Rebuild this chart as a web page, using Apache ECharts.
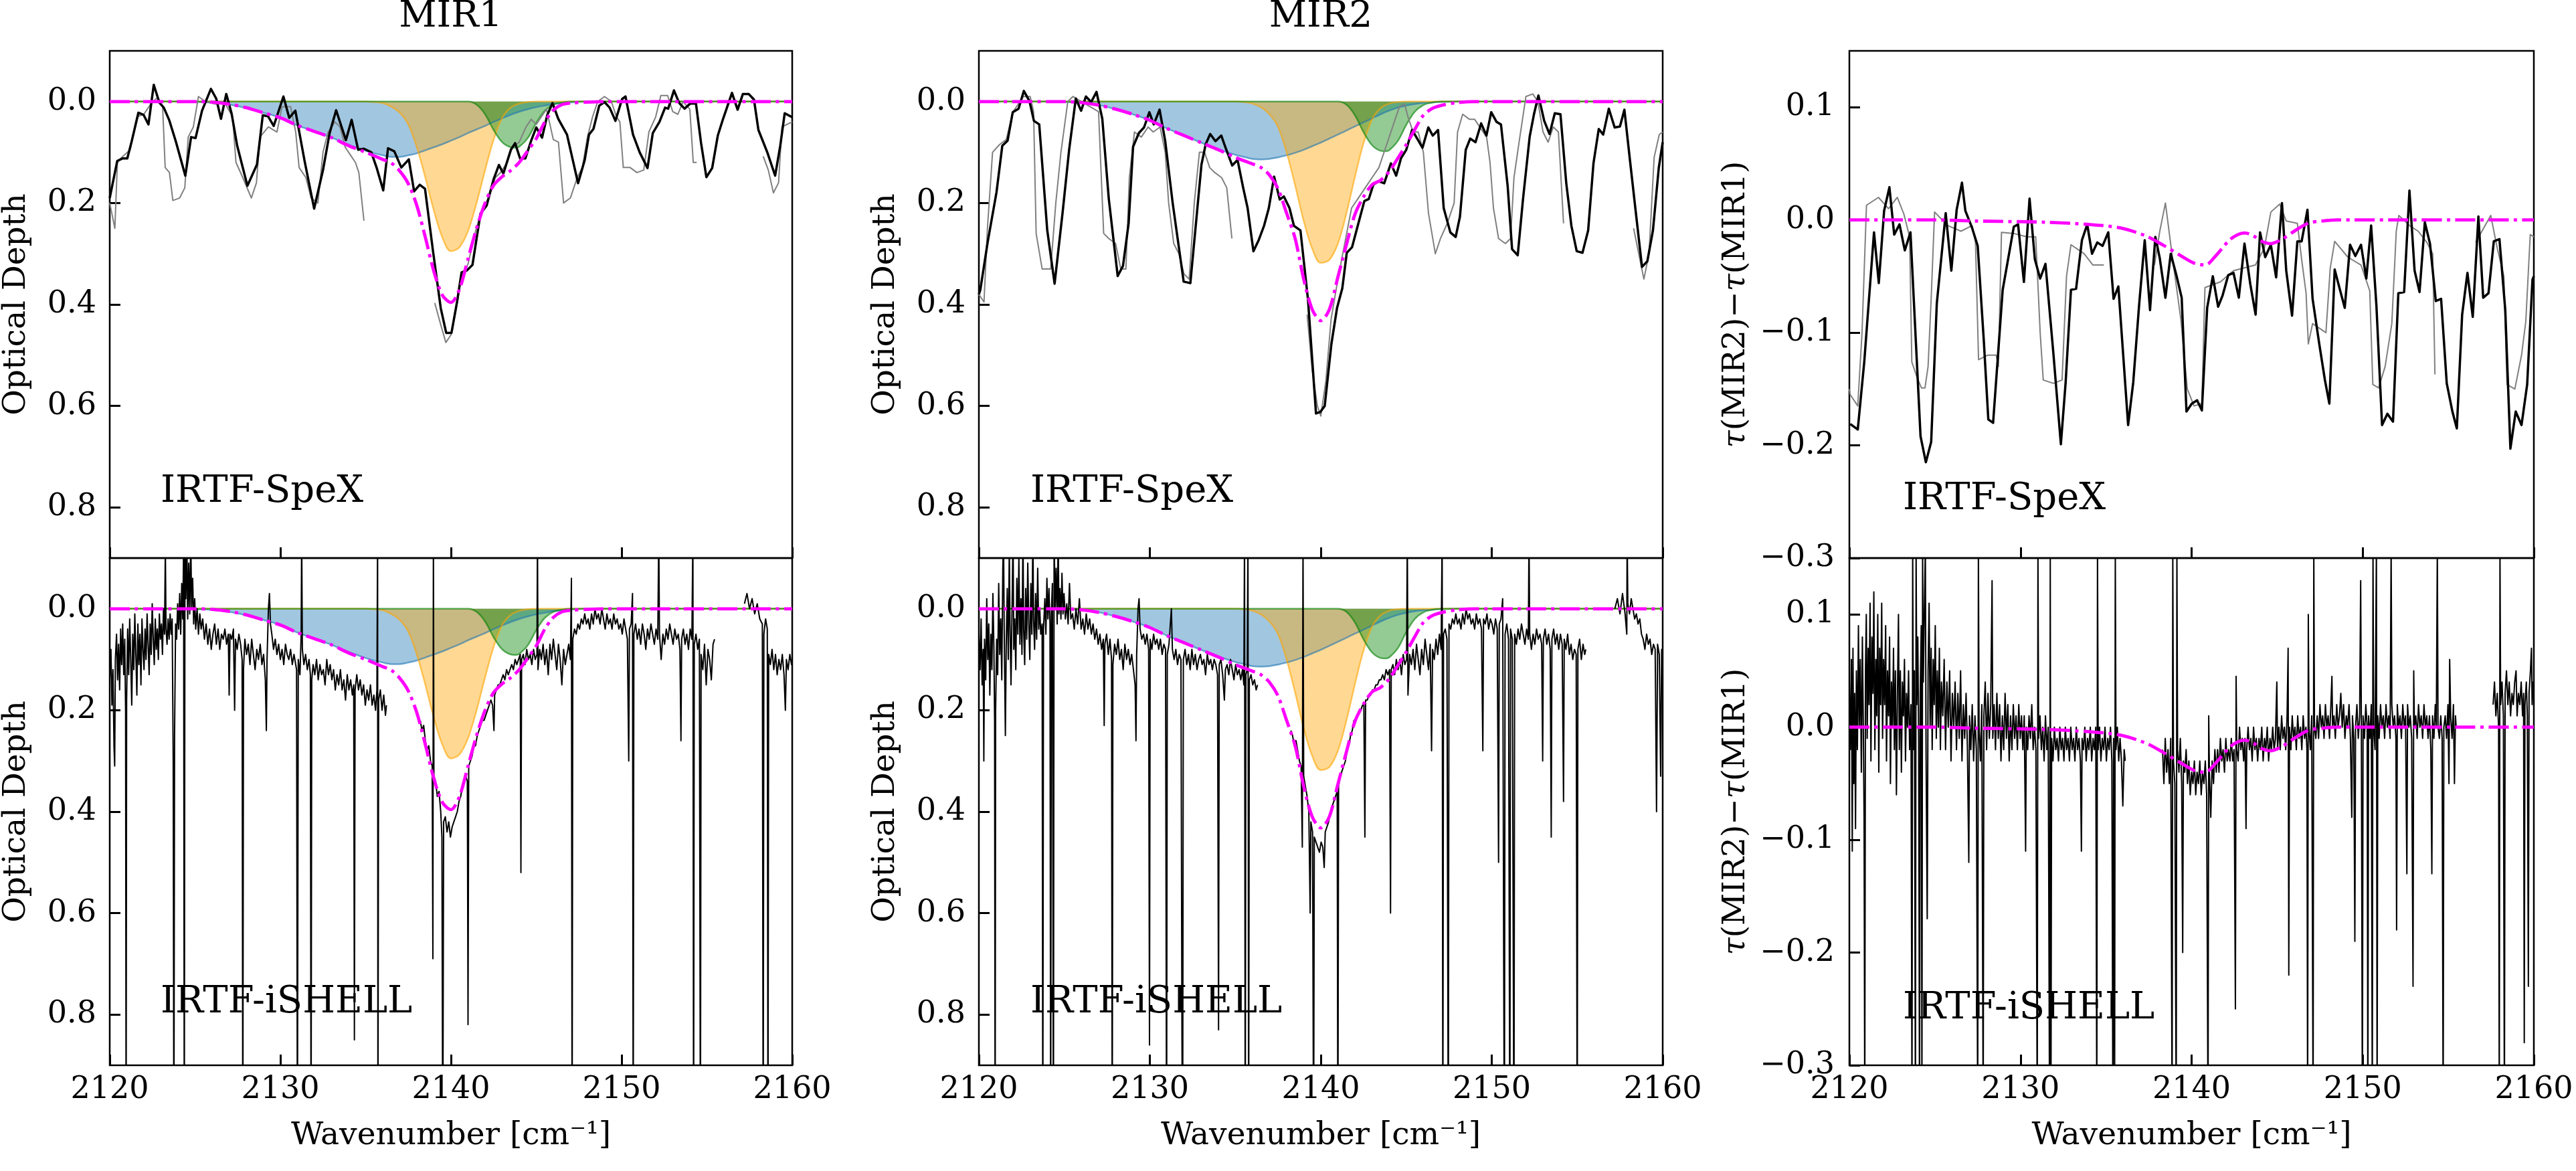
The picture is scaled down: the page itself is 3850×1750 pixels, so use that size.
<!DOCTYPE html>
<html><head><meta charset="utf-8">
<script src="https://cdn.jsdelivr.net/npm/echarts@6/dist/echarts.min.js"></script>
<style>html,body{margin:0;padding:0;background:#fff}#c{width:3850px;height:1750px}</style>
</head><body><div id="c"></div>
<script>
// ---------- axis ticks / labels ----------
const xTicks = [2120, 2130, 2140, 2150, 2160];
const odTicks = [0, 0.2, 0.4, 0.6, 0.8];
const diffTicks = [-0.3, -0.2, -0.1, 0, 0.1];
const columnTitles = ['MIR1', 'MIR2'];
const rowLabels = ['IRTF-SpeX', 'IRTF-iSHELL'];

// ---------- fitted components (x, tau) ----------
const blue1 = [2120,0, 2124,0, 2125,0.001, 2126,0.002, 2127,0.006, 2128,0.013, 2129,0.022, 2130,0.032, 2131,0.047, 2132,0.059, 2133,0.071, 2134,0.085, 2135,0.097, 2135.5,0.102, 2136,0.106, 2136.5,0.109, 2137,0.109, 2137.5,0.106, 2138,0.102, 2138.5,0.096, 2139,0.09, 2139.5,0.084, 2140,0.077, 2140.5,0.07, 2141,0.062, 2141.5,0.055, 2142,0.048, 2142.5,0.04, 2143,0.033, 2143.5,0.026, 2144,0.02, 2144.5,0.015, 2145,0.011, 2145.5,0.008, 2146,0.005, 2147,0.002, 2148,0, 2160,0];
const orange1 = [2120,0, 2135,0, 2135.5,0.001, 2136,0.003, 2136.5,0.01, 2137,0.022, 2137.5,0.045, 2138,0.09, 2138.5,0.15, 2139,0.215, 2139.5,0.268, 2140,0.295, 2140.5,0.287, 2141,0.255, 2141.5,0.2, 2142,0.135, 2142.5,0.075, 2143,0.032, 2143.5,0.012, 2144,0.004, 2144.5,0.001, 2145,0, 2160,0];
const green1 = [2120,0, 2141,0, 2141.5,0.006, 2142,0.025, 2142.5,0.056, 2143,0.08, 2143.5,0.09, 2143.8,0.091, 2144,0.089, 2144.5,0.072, 2145,0.042, 2145.5,0.018, 2146,0.006, 2146.5,0.002, 2147,0, 2160,0];
const fit1 = [2120,0, 2125,0, 2126,0.001, 2127,0.005, 2128,0.012, 2129,0.022, 2130,0.032, 2131,0.047, 2132,0.059, 2133,0.071, 2134,0.087, 2135,0.1, 2136,0.114, 2136.5,0.121, 2137,0.137, 2137.5,0.162, 2138,0.205, 2138.5,0.268, 2139,0.335, 2139.5,0.382, 2140,0.396, 2140.5,0.37, 2141,0.31, 2141.5,0.25, 2142,0.2, 2142.5,0.165, 2143,0.148, 2143.5,0.136, 2144,0.12, 2144.5,0.097, 2145,0.073, 2145.5,0.04, 2146,0.017, 2146.5,0.006, 2147,0.003, 2148,0.001, 2149,0, 2160,0];

const blue2 = [2120,0, 2124,0, 2125,0.001, 2126,0.002, 2127,0.007, 2128,0.015, 2129,0.025, 2130,0.037, 2131,0.053, 2132,0.067, 2133,0.081, 2134,0.094, 2135,0.105, 2135.5,0.109, 2136,0.113, 2136.5,0.114, 2137,0.113, 2137.5,0.11, 2138,0.106, 2138.5,0.101, 2139,0.095, 2139.5,0.088, 2140,0.081, 2140.5,0.073, 2141,0.065, 2141.5,0.057, 2142,0.049, 2142.5,0.041, 2143,0.033, 2143.5,0.025, 2144,0.018, 2144.5,0.012, 2145,0.008, 2145.5,0.005, 2146,0.003, 2147,0.001, 2148,0, 2160,0];
const orange2 = [2120,0, 2135,0, 2135.5,0.001, 2136,0.004, 2136.5,0.011, 2137,0.025, 2137.5,0.05, 2138,0.1, 2138.5,0.165, 2139,0.235, 2139.5,0.29, 2140,0.318, 2140.5,0.312, 2141,0.28, 2141.5,0.22, 2142,0.148, 2142.5,0.082, 2143,0.035, 2143.5,0.013, 2144,0.004, 2144.5,0.001, 2145,0, 2160,0];
const green2 = [2120,0, 2141,0, 2141.5,0.006, 2142,0.027, 2142.5,0.06, 2143,0.086, 2143.5,0.097, 2143.8,0.098, 2144,0.096, 2144.5,0.078, 2145,0.046, 2145.5,0.02, 2146,0.007, 2146.5,0.002, 2147,0, 2160,0];
const fit2 = [2120,0, 2125,0, 2126,0.002, 2127,0.007, 2128,0.015, 2129,0.025, 2130,0.037, 2131,0.053, 2132,0.067, 2133,0.081, 2134,0.095, 2135,0.11, 2136,0.123, 2136.5,0.13, 2137,0.145, 2137.5,0.172, 2138,0.22, 2138.5,0.27, 2139,0.35, 2139.5,0.41, 2140,0.432, 2140.5,0.41, 2141,0.346, 2141.5,0.282, 2142,0.222, 2142.5,0.188, 2143,0.164, 2143.5,0.155, 2144,0.138, 2144.5,0.112, 2145,0.085, 2145.5,0.055, 2146,0.027, 2146.5,0.014, 2147,0.008, 2148,0.002, 2149,0, 2160,0];

const fitDiff = [2120,0, 2125,0, 2127.5,-0.001, 2131.4,-0.002, 2134,-0.004, 2135.8,-0.007, 2137.3,-0.014, 2138.3,-0.022, 2139.4,-0.032, 2140.1,-0.038, 2140.8,-0.04, 2141.4,-0.032, 2142.2,-0.018, 2142.7,-0.013, 2143.1,-0.0115, 2143.6,-0.014, 2144.1,-0.019, 2144.6,-0.021, 2145.3,-0.017, 2146.05,-0.0095, 2146.8,-0.003, 2147.6,-0.001, 2148.5,0, 2160,0];

// ---------- IRTF-SpeX spectra ----------
const spexBlack1 = [2120.0,0.19, 2120.44,0.117, 2120.77,0.112, 2121.03,0.112, 2121.29,0.078, 2121.68,0.022, 2121.98,0.026, 2122.27,0.045, 2122.58,-0.033, 2122.91,0.002, 2123.17,0.012, 2123.48,0.036, 2123.87,0.078, 2124.43,0.146, 2124.77,0.07, 2125.03,0.072, 2125.41,0.018, 2125.93,-0.025, 2126.24,-0.006, 2126.52,0.034, 2126.83,-0.015, 2127.14,0.023, 2127.47,0.087, 2128.07,0.166, 2128.63,0.124, 2128.97,0.027, 2129.28,0.029, 2129.61,0.048, 2130.18,-0.01, 2130.52,0.032, 2130.88,0.018, 2131.42,0.117, 2131.98,0.211, 2132.5,0.135, 2132.89,0.062, 2133.27,0.017, 2133.58,0.049, 2133.84,0.076, 2134.18,0.036, 2134.56,0.095, 2134.9,0.093, 2135.33,0.1, 2135.64,0.13, 2136.03,0.175, 2136.31,0.092, 2136.68,0.098, 2137.09,0.13, 2137.53,0.114, 2137.84,0.177, 2138.17,0.164, 2138.48,0.172, 2138.94,0.293, 2139.4,0.407, 2139.72,0.456, 2140.03,0.456, 2140.36,0.394, 2140.62,0.337, 2140.93,0.333, 2141.26,0.322, 2141.73,0.221, 2142.09,0.205, 2142.5,0.153, 2142.81,0.125, 2143.07,0.142, 2143.51,0.095, 2143.76,0.082, 2144.05,0.112, 2144.36,0.112, 2144.69,0.078, 2145.0,0.051, 2145.34,0.071, 2145.64,0.027, 2145.95,0.003, 2146.29,0.034, 2146.8,0.065, 2147.45,0.161, 2147.84,0.115, 2148.09,0.065, 2148.35,0.054, 2148.69,0.008, 2149.0,0.001, 2149.3,0.012, 2149.64,0.038, 2150.03,-0.005, 2150.23,-0.01, 2150.67,0.065, 2151.06,0.1, 2151.52,0.131, 2151.83,0.062, 2152.22,0.04, 2152.55,0.012, 2152.73,0.014, 2153.07,-0.022, 2153.38,0.003, 2153.69,0.014, 2154.02,0.004, 2154.36,0.004, 2154.66,0.082, 2154.97,0.149, 2155.31,0.131, 2155.64,0.067, 2155.95,0.034, 2156.47,-0.017, 2156.8,0.016, 2157.11,-0.015, 2157.45,-0.015, 2157.76,-0.004, 2158.02,0.056, 2158.54,0.1, 2159.0,0.146, 2159.3,0.087, 2159.56,0.023, 2159.95,0.03, 2160.0,0.03];
const spexGrey1 = [2120.0,0.2, 2120.3,0.25, 2120.45,0.12, 2120.7,0.11, 2121.2,0.095, 2121.6,0.03, 2122.0,0.025, 2122.4,0.005, 2122.8,-0.008, 2123.1,0.01, 2123.25,0.13, 2123.5,0.14, 2123.7,0.195, 2124.1,0.19, 2124.4,0.17, 2124.6,0.07, 2124.9,0.05, 2125.2,-0.01, 2125.6,0.0, 2126.2,0.005, 2126.7,0.0, 2127.2,0.03, 2127.4,0.12, 2127.8,0.15, 2128.3,0.19, 2128.6,0.16, 2128.8,0.07, 2129.3,0.05, 2129.8,0.06, 2130.1,0.01, 2130.6,0.01, 2130.9,0.06, 2131.1,0.13, 2131.5,0.15, 2131.8,0.19, 2132.2,0.2, 2132.5,0.1, 2132.8,0.06, 2133.2,0.04, 2133.5,0.05, 2133.8,0.09, 2134.1,0.105, 2134.4,0.12, 2134.6,0.14, 2134.9,0.235, 2135.0,null, 2139.05,0.397, 2139.4,0.44, 2139.7,0.475, 2140.0,0.46, 2140.3,0.41, 2140.6,0.35, 2141.0,0.32, 2141.4,0.26, 2141.8,0.215, 2142.2,0.19, 2142.6,0.15, 2142.9,0.14, 2143.3,0.12, 2143.6,0.09, 2144.0,0.08, 2144.4,0.05, 2144.7,0.035, 2145.0,0.045, 2145.3,0.03, 2145.6,0.015, 2146.0,0.075, 2146.3,0.08, 2146.6,0.2, 2147.0,0.19, 2147.4,0.15, 2147.7,0.13, 2148.0,0.07, 2148.3,0.03, 2148.6,0.0, 2149.0,-0.01, 2149.4,0.0, 2149.7,0.03, 2149.9,0.04, 2150.1,0.13, 2150.5,0.13, 2150.9,0.14, 2151.3,0.135, 2151.6,0.06, 2152.0,0.03, 2152.3,-0.012, 2152.7,-0.012, 2153.0,0.02, 2153.3,0.025, 2153.6,0.0, 2154.0,0.015, 2154.2,0.12, 2154.4,0.12, 2154.5,null, 2158.3,0.108, 2158.6,0.135, 2158.9,0.18, 2159.2,0.16, 2159.4,0.05, 2159.7,0.045, 2160.0,0.04];

const spexBlack2 = [2120.0,0.38, 2120.08,0.372, 2120.52,0.276, 2121.03,0.179, 2121.37,0.087, 2121.68,0.077, 2121.98,0.021, 2122.32,0.014, 2122.63,-0.021, 2122.96,-0.001, 2123.22,0.038, 2123.53,0.045, 2124.0,0.254, 2124.43,0.359, 2124.9,0.218, 2125.28,0.095, 2125.67,-0.006, 2125.98,0.018, 2126.26,-0.01, 2126.57,0.001, 2126.88,-0.019, 2127.22,0.034, 2127.6,0.192, 2128.12,0.344, 2128.43,0.324, 2128.76,0.24, 2129.02,0.089, 2129.36,0.062, 2129.66,0.051, 2129.97,0.021, 2130.23,0.045, 2130.57,0.016, 2130.9,0.078, 2131.34,0.201, 2131.98,0.355, 2132.37,0.358, 2132.76,0.218, 2133.02,0.124, 2133.27,0.084, 2133.53,0.064, 2133.84,0.078, 2134.18,0.067, 2134.43,0.091, 2134.82,0.126, 2135.13,0.115, 2135.46,0.17, 2135.72,0.21, 2136.06,0.295, 2136.37,0.273, 2136.68,0.245, 2136.96,0.21, 2137.27,0.148, 2137.6,0.193, 2137.84,0.187, 2138.17,0.21, 2138.43,0.245, 2138.81,0.254, 2139.25,0.39, 2139.72,0.615, 2139.97,0.612, 2140.23,0.6, 2140.62,0.478, 2140.95,0.407, 2141.26,0.368, 2141.52,0.298, 2141.83,0.287, 2142.16,0.245, 2142.55,0.196, 2142.81,0.192, 2143.07,0.164, 2143.38,0.157, 2143.71,0.161, 2144.1,0.122, 2144.41,0.146, 2144.69,0.112, 2145.0,0.095, 2145.34,0.056, 2145.64,0.073, 2145.95,0.091, 2146.29,0.051, 2146.55,0.067, 2146.86,0.056, 2147.19,0.21, 2147.58,0.258, 2147.89,0.267, 2148.14,0.227, 2148.48,0.095, 2148.74,0.073, 2149.05,0.08, 2149.38,0.043, 2149.69,0.067, 2149.97,0.021, 2150.28,0.04, 2150.54,0.045, 2150.93,0.166, 2151.19,0.291, 2151.52,0.303, 2151.83,0.192, 2152.22,0.069, 2152.47,0.025, 2152.73,-0.012, 2153.07,0.038, 2153.38,0.064, 2153.69,0.023, 2154.02,0.025, 2154.36,0.161, 2154.66,0.245, 2154.97,0.295, 2155.31,0.298, 2155.64,0.254, 2155.95,0.122, 2156.26,0.054, 2156.52,0.065, 2156.85,0.014, 2157.19,0.051, 2157.5,0.049, 2157.76,0.016, 2158.09,0.117, 2158.4,0.21, 2158.79,0.326, 2159.1,0.315, 2159.43,0.254, 2159.77,0.131, 2160.0,0.08];
const spexGrey2 = [2120.0,0.38, 2120.3,0.395, 2120.5,0.25, 2120.8,0.1, 2121.2,0.085, 2121.6,0.075, 2122.0,0.02, 2122.6,-0.01, 2123.0,-0.01, 2123.2,0.02, 2123.35,0.26, 2123.7,0.33, 2124.2,0.33, 2124.5,0.2, 2124.8,0.1, 2125.2,0.0, 2125.5,-0.01, 2126.0,0.0, 2126.5,0.01, 2127.0,0.02, 2127.3,0.26, 2127.6,0.27, 2128.0,0.28, 2128.3,0.33, 2128.6,0.33, 2128.8,0.15, 2129.1,0.06, 2129.5,0.07, 2129.9,0.05, 2130.2,0.06, 2130.6,0.05, 2130.9,0.1, 2131.1,0.2, 2131.4,0.28, 2131.7,0.3, 2132.0,0.34, 2132.3,0.35, 2132.6,0.2, 2132.9,0.1, 2133.2,0.1, 2133.5,0.13, 2133.8,0.14, 2134.2,0.15, 2134.5,0.17, 2134.8,0.27, 2134.9,null, 2139.2,0.42, 2139.5,0.53, 2139.8,0.6, 2140.0,0.62, 2140.3,0.55, 2140.6,0.43, 2141.0,0.35, 2141.4,0.28, 2141.8,0.21, 2142.2,0.19, 2142.6,0.17, 2143.0,0.15, 2143.4,0.13, 2143.8,0.09, 2144.2,0.05, 2144.6,0.01, 2144.9,0.005, 2145.1,0.03, 2145.4,0.06, 2145.7,0.06, 2146.0,0.1, 2146.3,0.22, 2146.7,0.3, 2147.0,0.27, 2147.4,0.24, 2147.8,0.2, 2148.0,0.06, 2148.3,0.025, 2148.7,0.035, 2149.0,0.035, 2149.3,0.05, 2149.7,0.07, 2149.9,0.12, 2150.1,0.21, 2150.4,0.27, 2150.8,0.28, 2151.1,0.27, 2151.3,0.15, 2151.6,0.08, 2152.0,-0.01, 2152.4,-0.015, 2152.7,0.0, 2153.0,0.06, 2153.3,0.08, 2153.6,0.05, 2153.9,0.06, 2154.2,0.24, 2154.3,null, 2158.3,0.25, 2158.6,0.3, 2158.9,0.35, 2159.2,0.3, 2159.5,0.11, 2159.8,0.065, 2160.0,0.06];

const spexBlackDiff = [2120.05,-0.181, 2120.49,-0.186, 2120.87,-0.126, 2121.44,-0.011, 2121.72,-0.056, 2122.03,0.008, 2122.34,0.029, 2122.62,-0.013, 2122.93,-0.004, 2123.24,-0.027, 2123.57,-0.011, 2124.16,-0.192, 2124.47,-0.215, 2124.78,-0.197, 2125.11,-0.074, 2125.63,0.006, 2125.96,-0.045, 2126.27,0.009, 2126.58,0.033, 2126.78,0.008, 2127.17,-0.007, 2127.5,-0.023, 2127.86,-0.108, 2128.12,-0.177, 2128.4,-0.18, 2128.96,-0.062, 2129.61,-0.006, 2129.86,-0.004, 2130.2,-0.055, 2130.53,0.019, 2130.84,-0.035, 2131.15,-0.052, 2131.46,-0.039, 2131.92,-0.118, 2132.36,-0.199, 2132.64,-0.144, 2132.95,-0.062, 2133.25,-0.061, 2133.59,-0.018, 2133.9,-0.004, 2134.18,-0.03, 2134.49,-0.02, 2134.8,-0.023, 2135.13,-0.011, 2135.44,-0.07, 2135.72,-0.059, 2136.29,-0.182, 2136.59,-0.144, 2136.93,-0.076, 2137.26,-0.018, 2137.57,-0.08, 2137.88,-0.015, 2138.14,-0.034, 2138.47,-0.069, 2138.78,-0.03, 2139.11,-0.049, 2139.42,-0.069, 2139.7,-0.17, 2140.01,-0.163, 2140.32,-0.16, 2140.6,-0.169, 2140.91,-0.078, 2141.24,-0.05, 2141.55,-0.077, 2141.81,-0.067, 2142.14,-0.049, 2142.45,-0.047, 2142.76,-0.069, 2143.09,-0.021, 2143.43,-0.057, 2143.74,-0.084, 2144.0,-0.011, 2144.3,-0.033, 2144.63,-0.022, 2144.94,-0.051, 2145.28,0.015, 2145.53,-0.045, 2145.87,-0.085, 2146.18,-0.019, 2146.43,-0.019, 2146.77,0.009, 2147.07,-0.07, 2147.46,-0.11, 2147.79,-0.142, 2148.05,-0.163, 2148.36,-0.044, 2148.67,-0.062, 2148.95,-0.078, 2149.26,-0.022, 2149.57,-0.032, 2149.9,-0.022, 2150.21,-0.052, 2150.49,-0.005, 2150.8,-0.076, 2151.13,-0.182, 2151.44,-0.172, 2151.77,-0.179, 2152.08,-0.065, 2152.42,-0.064, 2152.73,0.026, 2153.03,-0.045, 2153.32,-0.064, 2153.63,-0.002, 2153.93,-0.021, 2154.27,-0.072, 2154.58,-0.07, 2154.91,-0.145, 2155.24,-0.17, 2155.5,-0.185, 2155.81,-0.084, 2156.12,-0.047, 2156.43,-0.086, 2156.76,0.003, 2157.04,-0.069, 2157.35,-0.065, 2157.66,-0.019, 2157.99,-0.017, 2158.33,-0.08, 2158.63,-0.203, 2158.94,-0.17, 2159.28,-0.182, 2159.61,-0.146, 2159.92,-0.053, 2160.0,-0.05];
const spexGreyDiff = [2120.0,-0.15, 2120.05,-0.155, 2120.49,-0.165, 2120.74,-0.1, 2121.0,0.013, 2121.7,0.02, 2122.29,0.01, 2122.8,0.02, 2123.19,0.005, 2123.52,-0.015, 2123.65,-0.126, 2123.96,-0.14, 2124.21,-0.149, 2124.42,-0.149, 2124.6,-0.13, 2124.78,-0.07, 2124.98,0.007, 2125.75,-0.005, 2126.52,-0.01, 2127.17,-0.005, 2127.37,-0.02, 2127.55,-0.124, 2128.07,-0.12, 2128.58,-0.12, 2128.71,-0.13, 2128.89,-0.011, 2129.61,-0.012, 2130.38,-0.015, 2130.89,-0.015, 2131.15,-0.1, 2131.33,-0.142, 2131.92,-0.145, 2132.43,-0.142, 2132.69,-0.05, 2132.95,-0.022, 2133.72,-0.03, 2134.23,-0.04, 2134.87,-0.04, 2135.0,null, 2137.83,-0.04, 2138.14,-0.01, 2138.47,0.015, 2138.85,-0.03, 2139.37,-0.088, 2139.75,-0.15, 2140.14,-0.165, 2140.6,-0.163, 2140.78,-0.06, 2141.68,-0.055, 2142.45,-0.045, 2143.73,-0.04, 2144.25,-0.025, 2144.63,0.007, 2145.15,0.014, 2145.53,-0.001, 2146.18,-0.003, 2146.43,-0.035, 2146.69,-0.065, 2146.82,-0.11, 2147.07,-0.092, 2147.85,-0.1, 2148.1,-0.043, 2148.36,-0.019, 2149.13,-0.033, 2149.9,-0.04, 2150.41,-0.063, 2150.59,-0.146, 2150.93,-0.149, 2151.31,-0.13, 2151.7,-0.092, 2151.96,-0.01, 2152.11,0.004, 2152.73,-0.005, 2153.24,-0.01, 2153.75,-0.02, 2154.09,-0.03, 2154.22,-0.137, 2154.3,null, 2156.6,-0.02, 2157.48,0.004, 2157.86,-0.025, 2158.25,-0.05, 2158.43,-0.146, 2158.89,-0.15, 2159.28,-0.12, 2159.53,-0.09, 2159.79,-0.013, 2160.0,-0.015];

// ---------- IRTF-iSHELL spectra ----------
const ishell1 = [2120.00,0.14, 2120.07,0.08, 2120.13,0.19, 2120.19,0.12, 2120.25,0.27, 2120.29,0.31, 2120.33,0.10, 2120.40,0.05, 2120.46,0.14, 2120.52,0.07, 2120.58,0.16, 2120.64,0.04, 2120.70,0.11, 2120.76,0.03, 2120.82,0.13, 2120.88,0.06, 2120.93,0.20, 2120.96,1.10, 2120.99,0.18, 2121.05,0.04, 2121.11,0.13, 2121.17,0.02, 2121.23,0.10, 2121.29,0.19, 2121.35,0.05, 2121.41,0.12, 2121.47,0.01, 2121.53,0.09, 2121.59,0.17, 2121.65,0.03, 2121.71,0.11, 2121.77,0.05, 2121.83,0.15, 2121.89,0.02, 2121.95,0.08, 2122.01,0.12, 2122.07,0.04, 2122.13,0.10, 2122.19,0.01, 2122.25,0.07, 2122.31,0.13, 2122.37,0.03, 2122.43,0.09, 2122.49,-0.01, 2122.55,0.06, 2122.61,0.11, 2122.67,0.02, 2122.73,0.08, 2122.79,0.04, 2122.85,0.10, 2122.91,0.01, 2122.97,0.06, 2123.03,0.03, 2123.09,0.09, 2123.15,0.00, 2123.21,0.05, 2123.26,-0.12, 2123.30,0.04, 2123.36,0.07, 2123.42,0.02, 2123.48,0.06, 2123.54,0.01, 2123.60,0.05, 2123.66,0.02, 2123.72,0.30, 2123.76,1.10, 2123.80,0.25, 2123.86,0.03, 2123.92,0.06, 2123.98,-0.01, 2124.04,0.04, 2124.10,-0.03, 2124.16,0.05, 2124.22,-0.05, 2124.28,0.02, 2124.33,-0.12, 2124.37,1.10, 2124.41,-0.15, 2124.46,-0.02, 2124.52,-0.13, 2124.57,0.02, 2124.63,-0.09, 2124.69,0.01, 2124.75,-0.14, 2124.80,0.00, 2124.86,-0.06, 2124.92,0.03, 2124.98,-0.02, 2125.04,0.04, 2125.12,0.00, 2125.20,0.05, 2125.28,0.01, 2125.36,0.04,
 2125.45,0.02, 2125.55,0.06, 2125.65,0.03, 2125.75,0.07, 2125.85,0.04, 2125.95,0.08, 2126.05,0.05, 2126.15,0.03, 2126.25,0.07, 2126.35,0.04, 2126.45,0.08, 2126.55,0.05, 2126.65,0.06, 2126.75,0.04, 2126.85,0.07, 2126.95,0.05, 2127.00,0.17, 2127.05,0.05, 2127.15,0.06, 2127.25,0.04, 2127.32,0.20, 2127.37,0.06, 2127.47,0.08, 2127.57,0.05, 2127.67,0.07, 2127.76,0.10, 2127.80,1.10, 2127.84,0.12, 2127.92,0.06, 2128.02,0.09, 2128.12,0.07, 2128.22,0.11, 2128.32,0.06, 2128.42,0.09, 2128.52,0.12, 2128.62,0.08, 2128.72,0.10, 2128.82,0.07, 2128.92,0.11, 2129.02,0.09, 2129.12,0.14, 2129.18,0.24, 2129.22,0.10, 2129.30,0.00, 2129.36,-0.03, 2129.42,0.03, 2129.50,0.05, 2129.60,0.08, 2129.70,0.06, 2129.80,0.09, 2129.90,0.07, 2130.00,0.10, 2130.10,0.08, 2130.20,0.11, 2130.30,0.07, 2130.40,0.09, 2130.50,0.10, 2130.60,0.08, 2130.70,0.11, 2130.80,0.09, 2130.95,0.12, 2131.00,1.10, 2131.05,0.10, 2131.15,0.13, 2131.22,0.05, 2131.25,-0.15, 2131.29,0.08, 2131.38,0.11, 2131.48,0.09, 2131.58,0.12, 2131.68,0.10, 2131.76,0.13, 2131.80,1.10, 2131.84,0.14, 2131.92,0.11, 2132.02,0.13, 2132.12,0.10, 2132.22,0.14, 2132.32,0.11, 2132.42,0.13, 2132.52,0.12, 2132.62,0.15, 2132.72,0.10, 2132.82,0.13, 2132.92,0.11, 2133.02,0.14, 2133.12,0.12, 2133.22,0.16, 2133.32,0.13, 2133.42,0.15, 2133.52,0.12, 2133.62,0.16, 2133.72,0.14, 2133.82,0.18, 2133.92,0.13, 2134.02,0.16, 2134.12,0.14, 2134.22,0.17, 2134.30,0.15, 2134.34,0.85, 2134.38,0.16, 2134.48,0.13, 2134.58,0.16, 2134.68,0.14, 2134.78,0.17, 2134.88,0.15, 2134.98,0.19, 2135.08,0.16, 2135.18,0.18, 2135.28,0.15, 2135.38,0.19, 2135.48,0.17, 2135.58,0.20, 2135.66,0.16, 2135.70,-0.15, 2135.72,1.10, 2135.76,0.18, 2135.86,0.16, 2135.96,0.20, 2136.06,0.17, 2136.16,0.21, 2136.22,0.19, 2137.2,null,
 2138.20,0.22, 2138.30,0.24, 2138.40,0.23, 2138.50,0.26, 2138.60,0.28, 2138.70,0.27, 2138.80,0.30, 2138.90,0.31, 2138.94,0.69, 2138.97,-0.15, 2139.00,0.33, 2139.10,0.34, 2139.20,0.37, 2139.30,0.36, 2139.40,0.40, 2139.47,0.45, 2139.52,1.10, 2139.57,0.42, 2139.67,0.41, 2139.77,0.44, 2139.87,0.42, 2139.97,0.45, 2140.07,0.43, 2140.17,0.42, 2140.27,0.41, 2140.37,0.40, 2140.47,0.38, 2140.57,0.37, 2140.67,0.35, 2140.77,0.34, 2140.87,0.33, 2140.96,0.34, 2141.00,0.82, 2141.04,0.31, 2141.14,0.30, 2141.24,0.29, 2141.34,0.27, 2141.44,0.27, 2141.54,0.25, 2141.64,0.24, 2141.74,0.23, 2141.84,0.22, 2141.94,0.22, 2142.04,0.21, 2142.14,0.20, 2142.24,0.19, 2142.34,0.18, 2142.44,0.19, 2142.52,0.24, 2142.56,0.17, 2142.66,0.16, 2142.76,0.15, 2142.86,0.15, 2142.96,0.14, 2143.06,0.13, 2143.16,0.14, 2143.26,0.12, 2143.36,0.13, 2143.46,0.12, 2143.56,0.11, 2143.66,0.12, 2143.76,0.10, 2143.86,0.11, 2143.96,0.10, 2144.06,0.09, 2144.10,0.52, 2144.14,0.10, 2144.24,0.09, 2144.34,0.11, 2144.44,0.08, 2144.54,0.10, 2144.64,0.09, 2144.74,0.11, 2144.84,0.08, 2144.94,0.10, 2145.04,0.09, 2145.07,-0.15, 2145.10,0.12, 2145.20,0.08, 2145.30,0.10, 2145.40,0.07, 2145.50,0.11, 2145.60,0.08, 2145.70,0.13, 2145.80,0.07, 2145.90,0.10, 2146.00,0.06, 2146.10,0.09, 2146.20,0.12, 2146.30,0.07, 2146.40,0.10, 2146.50,0.15, 2146.60,0.08, 2146.70,0.11, 2146.80,0.09, 2146.90,0.07, 2147.00,0.10, 2147.06,-0.06, 2147.10,1.10, 2147.14,0.06, 2147.24,0.04, 2147.34,0.05, 2147.44,0.03, 2147.54,0.04, 2147.64,0.02, 2147.74,0.03, 2147.84,0.01, 2147.94,0.03, 2148.04,0.02, 2148.14,0.04, 2148.24,0.01, 2148.34,0.03, 2148.44,0.00, 2148.54,0.02, 2148.64,0.01, 2148.74,0.03, 2148.84,0.00, 2148.94,0.02, 2149.04,0.04, 2149.14,0.01, 2149.24,0.03, 2149.34,0.02, 2149.44,0.04, 2149.54,0.01, 2149.64,0.03, 2149.74,0.02, 2149.84,0.04, 2149.94,0.03, 2150.04,0.05, 2150.14,0.02, 2150.24,0.04, 2150.34,0.06, 2150.42,0.30, 2150.46,0.04, 2150.56,0.03, 2150.64,-0.03, 2150.68,1.10, 2150.72,0.05, 2150.82,0.03, 2150.92,0.06, 2151.02,0.04, 2151.12,0.07, 2151.22,0.03, 2151.32,0.05, 2151.42,0.08, 2151.52,0.04, 2151.62,0.06, 2151.72,0.03, 2151.82,0.05, 2151.92,0.07, 2152.02,0.04, 2152.12,0.06, 2152.18,-0.15, 2152.22,0.05, 2152.32,0.10, 2152.42,0.05, 2152.52,0.07, 2152.62,0.04, 2152.72,0.06, 2152.82,0.03, 2152.92,0.05, 2153.02,0.07, 2153.12,0.04, 2153.22,0.06, 2153.32,0.05, 2153.42,0.08, 2153.48,0.26, 2153.52,0.06, 2153.62,0.04, 2153.72,0.07, 2153.82,0.05, 2153.92,0.08, 2154.02,0.04, 2154.12,0.06, 2154.18,-0.15, 2154.22,1.10, 2154.26,0.07, 2154.36,0.05, 2154.46,0.08, 2154.56,0.06, 2154.62,1.10, 2154.66,0.09, 2154.76,0.12, 2154.86,0.07, 2154.96,0.15, 2155.06,0.08, 2155.16,0.10, 2155.26,0.14, 2155.36,0.07, 2155.45,0.06, 2156.3,null,
 2157.20,-0.01, 2157.35,-0.03, 2157.50,0.00, 2157.65,-0.02, 2157.80,0.01, 2157.95,-0.01, 2158.10,0.02, 2158.25,0.03, 2158.30,1.10, 2158.34,0.05, 2158.44,0.02, 2158.54,0.04, 2158.58,1.10, 2158.62,0.09, 2158.72,0.11, 2158.82,0.08, 2158.92,0.12, 2159.02,0.09, 2159.12,0.13, 2159.22,0.10, 2159.32,0.12, 2159.42,0.09, 2159.52,0.13, 2159.60,0.20, 2159.66,0.10, 2159.76,0.12, 2159.86,0.09, 2159.96,0.11, 2160.00,0.10];

const ishell2 = [2120.00,0.05, 2120.07,0.12, 2120.13,0.02, 2120.19,0.15, 2120.25,0.08, 2120.29,0.30, 2120.33,0.06, 2120.40,0.14, 2120.46,-0.02, 2120.52,0.10, 2120.58,0.03, 2120.64,0.17, 2120.70,0.05, 2120.76,0.12, 2120.82,-0.03, 2120.88,0.08, 2120.92,0.22, 2120.95,1.10, 2120.98,0.20, 2121.04,0.06, 2121.10,0.13, 2121.16,-0.05, 2121.22,0.09, 2121.28,0.02, 2121.34,0.14, 2121.40,-0.08, 2121.44,-0.15, 2121.48,0.04, 2121.55,0.25, 2121.60,0.07, 2121.66,-0.04, 2121.72,0.10, 2121.78,-0.12, 2121.82,0.03, 2121.88,0.15, 2121.94,0.00, 2122.00,-0.15, 2122.04,0.08, 2122.10,0.02, 2122.16,0.12, 2122.22,-0.06, 2122.28,0.05, 2122.34,-0.10, 2122.40,0.07, 2122.46,-0.02, 2122.52,0.09, 2122.58,-0.15, 2122.62,0.04, 2122.68,0.11, 2122.74,-0.04, 2122.80,0.06, 2122.86,-0.09, 2122.92,0.03, 2122.98,0.10, 2123.04,-0.05, 2123.10,0.05, 2123.16,-0.15, 2123.20,0.02, 2123.26,0.08, 2123.32,-0.03, 2123.38,0.06, 2123.44,-0.08, 2123.50,0.04, 2123.56,0.00, 2123.62,0.05, 2123.70,0.03, 2123.74,1.10, 2123.78,0.04, 2123.86,-0.02, 2123.92,0.05, 2123.98,-0.06, 2124.04,0.02, 2124.10,-0.04, 2124.16,0.03, 2124.20,1.10, 2124.24,0.01, 2124.30,-0.05, 2124.36,1.10, 2124.40,-0.15, 2124.46,0.00, 2124.52,-0.08, 2124.58,0.03, 2124.64,-0.15, 2124.68,0.01, 2124.74,-0.04, 2124.80,0.02, 2124.86,-0.07, 2124.92,0.01, 2124.98,-0.03, 2125.06,0.02, 2125.14,-0.01, 2125.22,0.03, 2125.30,-0.05, 2125.38,0.02,
 2125.48,0.01, 2125.58,0.04, 2125.68,0.00, 2125.78,0.03, 2125.88,-0.02, 2125.98,0.04, 2126.08,0.02, 2126.18,0.05, 2126.28,0.01, 2126.38,0.04, 2126.48,0.02, 2126.58,0.05, 2126.68,0.03, 2126.78,0.06, 2126.88,0.04, 2126.98,0.07, 2127.08,0.05, 2127.18,0.08, 2127.28,0.06, 2127.33,0.23, 2127.37,0.07, 2127.47,0.05, 2127.57,0.09, 2127.67,0.06, 2127.76,0.10, 2127.80,1.10, 2127.84,0.11, 2127.94,0.07, 2128.04,0.09, 2128.14,0.06, 2128.24,0.10, 2128.34,0.08, 2128.44,0.12, 2128.54,0.07, 2128.64,0.10, 2128.74,0.08, 2128.84,0.11, 2128.94,0.09, 2129.04,0.12, 2129.14,0.15, 2129.19,0.26, 2129.23,0.09, 2129.31,0.00, 2129.37,-0.02, 2129.43,0.04, 2129.53,0.06, 2129.63,0.05, 2129.73,0.07, 2129.83,0.05, 2129.93,0.08, 2129.98,0.86, 2130.02,0.06, 2130.12,0.08, 2130.22,0.05, 2130.32,0.07, 2130.42,0.06, 2130.52,0.08, 2130.62,0.06, 2130.72,0.09, 2130.82,0.07, 2130.92,0.08, 2130.98,1.10, 2131.02,0.09, 2131.12,0.07, 2131.20,0.03, 2131.26,0.00, 2131.32,0.08, 2131.42,0.10, 2131.52,0.08, 2131.62,0.11, 2131.72,0.09, 2131.82,0.10, 2131.88,0.85, 2131.92,1.10, 2131.96,0.10, 2132.06,0.08, 2132.16,0.11, 2132.26,0.09, 2132.36,0.12, 2132.46,0.08, 2132.56,0.11, 2132.66,0.09, 2132.76,0.12, 2132.86,0.10, 2132.96,0.09, 2133.06,0.11, 2133.16,0.10, 2133.26,0.13, 2133.36,0.09, 2133.46,0.11, 2133.56,0.10, 2133.66,0.12, 2133.76,0.10, 2133.86,0.11, 2133.96,0.13, 2134.02,0.83, 2134.06,0.11, 2134.16,0.10, 2134.26,0.13, 2134.36,0.18, 2134.42,0.12, 2134.52,0.11, 2134.62,0.13, 2134.72,0.10, 2134.82,0.12, 2134.92,0.14, 2135.02,0.11, 2135.12,0.13, 2135.22,0.12, 2135.32,0.14, 2135.42,0.12, 2135.50,0.15, 2135.54,-0.15, 2135.58,1.10, 2135.62,0.13, 2135.70,0.12, 2135.74,-0.15, 2135.78,1.10, 2135.82,0.14, 2135.92,0.13, 2136.02,0.15, 2136.12,0.14, 2136.22,0.16, 2136.30,0.15, 2137.2,null,
 2138.25,0.24, 2138.35,0.25, 2138.45,0.27, 2138.55,0.26, 2138.65,0.28, 2138.75,0.30, 2138.85,0.31, 2138.92,0.47, 2138.96,-0.15, 2139.00,0.33, 2139.10,0.35, 2139.20,0.37, 2139.30,0.40, 2139.38,0.60, 2139.42,0.42, 2139.52,0.44, 2139.58,1.10, 2139.62,0.45, 2139.72,0.46, 2139.82,0.47, 2139.92,0.48, 2140.02,0.46, 2140.12,0.47, 2140.20,0.51, 2140.26,0.44, 2140.36,0.43, 2140.46,0.42, 2140.56,0.40, 2140.66,0.39, 2140.76,0.38, 2140.86,0.37, 2140.96,0.36, 2141.00,1.10, 2141.04,0.35, 2141.14,0.33, 2141.24,0.32, 2141.34,0.31, 2141.44,0.30, 2141.54,0.28, 2141.64,0.27, 2141.74,0.25, 2141.84,0.24, 2141.94,0.22, 2142.04,0.22, 2142.14,0.21, 2142.24,0.20, 2142.34,0.20, 2142.44,0.19, 2142.52,0.19, 2142.58,0.45, 2142.62,0.18, 2142.72,0.18, 2142.82,0.17, 2142.92,0.17, 2143.02,0.16, 2143.12,0.16, 2143.22,0.15, 2143.32,0.15, 2143.42,0.14, 2143.52,0.14, 2143.62,0.13, 2143.72,0.14, 2143.82,0.12, 2143.92,0.13, 2144.02,0.12, 2144.08,0.60, 2144.12,0.12, 2144.22,0.11, 2144.32,0.13, 2144.42,0.10, 2144.52,0.12, 2144.62,0.10, 2144.72,0.13, 2144.82,0.09, 2144.92,0.11, 2145.02,0.10, 2145.06,-0.15, 2145.10,0.17, 2145.20,0.09, 2145.30,0.11, 2145.40,0.08, 2145.50,0.12, 2145.60,0.07, 2145.70,0.10, 2145.80,0.13, 2145.90,0.08, 2146.00,0.11, 2146.10,0.06, 2146.20,0.09, 2146.30,0.12, 2146.40,0.07, 2146.48,0.28, 2146.54,0.08, 2146.64,0.10, 2146.74,0.06, 2146.84,0.09, 2146.94,0.05, 2147.04,0.08, 2147.10,-0.15, 2147.14,1.10, 2147.18,0.05, 2147.28,0.04, 2147.38,0.06, 2147.46,1.10, 2147.50,0.03, 2147.60,0.04, 2147.70,0.02, 2147.80,0.03, 2147.90,0.01, 2148.00,0.03, 2148.10,0.02, 2148.20,0.04, 2148.30,0.01, 2148.40,0.03, 2148.50,0.00, 2148.60,0.02, 2148.70,0.01, 2148.80,0.03, 2148.90,0.02, 2149.00,0.04, 2149.10,0.01, 2149.20,0.03, 2149.30,0.02, 2149.40,0.04, 2149.48,0.28, 2149.52,0.02, 2149.62,0.03, 2149.72,0.01, 2149.82,0.04, 2149.92,0.02, 2150.02,0.03, 2150.12,0.05, 2150.22,0.02, 2150.32,0.04, 2150.40,0.50, 2150.44,0.03, 2150.54,0.02, 2150.64,-0.02, 2150.70,0.70, 2150.74,1.10, 2150.78,0.05, 2150.88,0.03, 2150.98,0.06, 2151.06,1.10, 2151.10,0.04, 2151.20,0.06, 2151.30,1.10, 2151.34,0.05, 2151.44,0.07, 2151.54,0.04, 2151.64,0.06, 2151.74,0.03, 2151.84,0.05, 2151.94,0.07, 2152.04,0.04, 2152.14,0.06, 2152.18,-0.15, 2152.22,0.05, 2152.32,0.08, 2152.42,0.05, 2152.52,0.07, 2152.62,0.04, 2152.72,0.06, 2152.82,0.05, 2152.92,0.07, 2152.98,0.30, 2153.02,0.06, 2153.12,0.04, 2153.22,0.07, 2153.32,0.05, 2153.42,0.08, 2153.48,0.45, 2153.52,0.06, 2153.62,0.04, 2153.72,0.07, 2153.82,0.05, 2153.92,0.08, 2154.02,0.05, 2154.12,0.07, 2154.20,0.38, 2154.24,0.06, 2154.34,0.08, 2154.44,0.05, 2154.54,0.09, 2154.64,0.07, 2154.74,0.10, 2154.84,0.08, 2154.94,0.09, 2155.00,1.10, 2155.04,0.08, 2155.14,0.06, 2155.24,0.10, 2155.34,0.07, 2155.44,0.09, 2155.50,0.08, 2156.3,null,
 2157.20,0.00, 2157.35,-0.02, 2157.50,0.01, 2157.65,-0.03, 2157.80,0.01, 2157.90,0.05, 2157.92,-0.15, 2157.96,-0.01, 2158.06,0.01, 2158.16,-0.02, 2158.26,0.00, 2158.36,0.02, 2158.46,0.01, 2158.56,0.03, 2158.66,0.02, 2158.76,0.05, 2158.86,0.06, 2158.96,0.08, 2159.06,0.05, 2159.16,0.07, 2159.26,0.06, 2159.36,0.09, 2159.46,0.07, 2159.56,0.08, 2159.64,0.40, 2159.70,0.07, 2159.80,0.09, 2159.88,0.33, 2159.94,0.08, 2160.00,0.10];

const ishellDiff = [2120.00,0.04, 2120.06,-0.02, 2120.12,0.06, 2120.17,-0.11, 2120.21,0.07, 2120.26,-0.05, 2120.31,0.03, 2120.36,-0.09, 2120.41,0.05, 2120.47,-0.02, 2120.53,0.09, 2120.58,0.00, 2120.64,0.06, 2120.70,-0.04, 2120.76,0.08, 2120.81,0.01, 2120.86,-0.08, 2120.90,-0.35, 2120.94,0.05, 2120.99,0.10, 2121.04,-0.01, 2121.10,0.07, 2121.15,0.02, 2121.21,0.11, 2121.26,-0.03, 2121.32,0.08, 2121.38,0.03, 2121.43,0.12, 2121.49,-0.02, 2121.55,0.06, 2121.60,0.01, 2121.66,0.10, 2121.72,-0.04, 2121.77,0.07, 2121.83,0.02, 2121.89,0.11, 2121.94,-0.01, 2122.00,0.06, 2122.06,0.02, 2122.12,0.09, 2122.17,-0.03, 2122.23,0.05, 2122.29,0.01, 2122.35,0.08, 2122.40,-0.05, 2122.46,0.04, 2122.52,0.00, 2122.58,0.07, 2122.63,-0.02, 2122.69,0.05, 2122.75,-0.06, 2122.81,0.03, 2122.87,0.10, 2122.92,-0.02, 2122.98,0.05, 2123.04,-0.04, 2123.10,0.04, 2123.16,0.01, 2123.22,0.06, 2123.28,-0.03, 2123.34,0.03, 2123.40,0.00, 2123.46,0.05, 2123.52,-0.02, 2123.60,0.02, 2123.66,-0.35, 2123.70,0.16, 2123.74,-0.02, 2123.80,0.05, 2123.86,-0.35, 2123.90,0.16, 2123.94,0.02, 2124.00,0.08, 2124.05,-0.01, 2124.10,-0.35, 2124.14,0.03, 2124.20,0.09, 2124.24,-0.35, 2124.28,0.16, 2124.32,0.04, 2124.38,0.10, 2124.44,0.16, 2124.48,-0.02, 2124.55,-0.17, 2124.60,0.05, 2124.66,0.11, 2124.72,0.00, 2124.78,0.07, 2124.84,-0.02, 2124.90,0.06, 2124.96,0.02, 2125.02,0.09, 2125.08,-0.01, 2125.14,0.05, 2125.20,0.00, 2125.26,0.07, 2125.32,-0.02, 2125.38,0.04,
 2125.46,0.01, 2125.54,0.06, 2125.62,-0.02, 2125.70,0.04, 2125.78,0.00, 2125.86,0.05, 2125.94,-0.03, 2126.02,0.03, 2126.10,0.00, 2126.18,0.04, 2126.26,-0.02, 2126.34,0.03, 2126.42,-0.01, 2126.50,0.05, 2126.58,-0.03, 2126.66,0.02, 2126.74,-0.01, 2126.82,0.03, 2126.90,-0.02, 2126.98,-0.12, 2127.02,0.01, 2127.10,-0.02, 2127.18,0.02, 2127.26,-0.03, 2127.34,0.01, 2127.42,-0.02, 2127.50,-0.35, 2127.54,0.16, 2127.58,0.00, 2127.66,-0.03, 2127.74,0.02, 2127.82,-0.35, 2127.86,0.01, 2127.94,0.04, 2128.02,-0.02, 2128.10,0.03, 2128.18,-0.01, 2128.26,0.02, 2128.34,0.13, 2128.38,-0.01, 2128.46,0.02, 2128.54,-0.02, 2128.62,0.03, 2128.70,-0.01, 2128.78,0.02, 2128.86,-0.03, 2128.94,0.01, 2129.02,-0.02, 2129.10,0.03, 2129.18,-0.01, 2129.26,0.02, 2129.34,-0.03, 2129.42,0.01, 2129.50,-0.02, 2129.58,0.02, 2129.66,-0.01, 2129.74,0.01, 2129.82,-0.02, 2129.90,0.02, 2129.98,-0.01, 2130.06,0.01, 2130.14,-0.02, 2130.22,0.01, 2130.30,-0.11, 2130.34,0.00, 2130.42,-0.02, 2130.50,0.01, 2130.58,-0.01, 2130.66,0.02, 2130.74,-0.02, 2130.82,0.00, 2130.90,-0.02, 2130.98,-0.35, 2131.02,0.16, 2131.06,-0.01, 2131.14,0.01, 2131.22,-0.02, 2131.30,0.00, 2131.38,-0.03, 2131.46,0.01, 2131.54,-0.02, 2131.62,0.00, 2131.70,-0.35, 2131.74,0.16, 2131.78,-0.35, 2131.82,-0.01, 2131.90,-0.03, 2131.98,0.00, 2132.06,-0.02, 2132.14,-0.01, 2132.22,-0.03, 2132.30,0.00, 2132.38,-0.02, 2132.46,-0.01, 2132.54,-0.03, 2132.62,0.00, 2132.70,-0.02, 2132.78,-0.01, 2132.86,-0.03, 2132.94,0.00, 2133.02,-0.02, 2133.10,-0.01, 2133.18,-0.03, 2133.26,0.00, 2133.34,-0.02, 2133.42,-0.01, 2133.50,-0.03, 2133.56,-0.11, 2133.60,-0.01, 2133.68,-0.02, 2133.76,0.00, 2133.84,-0.03, 2133.92,-0.01, 2134.00,-0.02, 2134.08,0.00, 2134.16,-0.03, 2134.24,-0.01, 2134.32,-0.02, 2134.40,0.00, 2134.46,-0.35, 2134.50,0.16, 2134.54,-0.02, 2134.62,0.00, 2134.70,-0.03, 2134.78,-0.01, 2134.86,-0.02, 2134.94,0.00, 2135.02,-0.03, 2135.10,-0.01, 2135.18,-0.02, 2135.26,0.00, 2135.34,-0.03, 2135.40,-0.35, 2135.44,-0.01, 2135.50,-0.35, 2135.54,0.16, 2135.58,-0.02, 2135.66,0.00, 2135.74,-0.03, 2135.82,-0.01, 2135.90,-0.03, 2135.98,-0.07, 2136.06,-0.02, 2136.12,-0.03, 2137.2,null,
 2138.30,-0.02, 2138.38,-0.05, 2138.46,-0.01, 2138.54,-0.04, 2138.62,-0.02, 2138.70,-0.05, 2138.78,-0.01, 2138.86,-0.35, 2138.90,0.16, 2138.94,-0.03, 2139.02,-0.05, 2139.10,-0.35, 2139.14,0.16, 2139.18,-0.02, 2139.26,-0.04, 2139.34,-0.01, 2139.42,-0.05, 2139.48,-0.20, 2139.52,-0.03, 2139.60,-0.04, 2139.68,-0.02, 2139.76,-0.05, 2139.84,-0.03, 2139.92,-0.06, 2140.00,-0.04, 2140.08,-0.05, 2140.16,-0.03, 2140.24,-0.06, 2140.32,-0.04, 2140.40,-0.05, 2140.48,-0.03, 2140.56,-0.06, 2140.64,-0.04, 2140.72,-0.05, 2140.80,-0.03, 2140.88,-0.06, 2140.96,-0.35, 2141.00,0.01, 2141.04,-0.04, 2141.12,-0.08, 2141.20,-0.03, 2141.28,-0.05, 2141.36,-0.02, 2141.44,-0.04, 2141.52,-0.02, 2141.60,-0.04, 2141.68,-0.01, 2141.76,-0.03, 2141.84,-0.02, 2141.92,-0.04, 2142.00,-0.01, 2142.08,-0.03, 2142.16,-0.02, 2142.24,-0.03, 2142.32,-0.01, 2142.40,-0.03, 2142.48,-0.02, 2142.56,-0.25, 2142.60,0.045, 2142.64,-0.02, 2142.72,-0.03, 2142.80,0.00, 2142.88,-0.02, 2142.96,-0.01, 2143.04,-0.03, 2143.12,-0.01, 2143.18,-0.09, 2143.22,-0.02, 2143.30,0.00, 2143.38,-0.02, 2143.46,-0.01, 2143.54,-0.03, 2143.62,0.00, 2143.70,-0.02, 2143.78,-0.01, 2143.86,-0.03, 2143.94,-0.01, 2144.02,-0.02, 2144.10,0.00, 2144.18,-0.03, 2144.26,-0.01, 2144.34,-0.02, 2144.42,0.00, 2144.50,-0.03, 2144.58,-0.01, 2144.66,-0.02, 2144.74,0.00, 2144.82,-0.02, 2144.90,-0.01, 2144.98,0.04, 2145.02,-0.02, 2145.10,0.00, 2145.18,-0.02, 2145.26,0.01, 2145.34,-0.01, 2145.42,0.00, 2145.50,-0.02, 2145.58,0.01, 2145.64,0.07, 2145.68,-0.22, 2145.72,0.00, 2145.80,-0.02, 2145.88,0.01, 2145.96,-0.01, 2146.04,0.00, 2146.12,-0.02, 2146.20,0.01, 2146.28,-0.01, 2146.36,0.00, 2146.44,-0.02, 2146.52,0.01, 2146.60,-0.01, 2146.68,0.00, 2146.74,-0.02, 2146.78,-0.35, 2146.82,0.10, 2146.86,0.00, 2146.94,-0.02, 2147.02,0.01, 2147.10,-0.35, 2147.14,0.16, 2147.18,0.00, 2147.26,-0.01, 2147.34,0.01, 2147.42,-0.01, 2147.50,0.02, 2147.58,0.00, 2147.66,0.01, 2147.74,-0.01, 2147.82,0.02, 2147.90,0.00, 2147.98,0.01, 2148.06,-0.01, 2148.14,0.02, 2148.20,0.045, 2148.24,0.00, 2148.32,0.01, 2148.40,-0.01, 2148.48,0.02, 2148.56,0.00, 2148.64,0.01, 2148.72,0.03, 2148.80,0.00, 2148.88,0.02, 2148.96,-0.01, 2149.04,0.01, 2149.12,0.00, 2149.20,0.02, 2149.28,-0.01, 2149.36,-0.08, 2149.40,0.01, 2149.48,-0.01, 2149.54,-0.19, 2149.58,0.00, 2149.66,0.02, 2149.74,-0.01, 2149.82,0.01, 2149.88,0.13, 2149.92,0.00, 2149.98,-0.35, 2150.02,0.01, 2150.10,-0.01, 2150.18,0.02, 2150.26,0.00, 2150.30,-0.35, 2150.34,0.01, 2150.42,-0.01, 2150.50,0.02, 2150.56,-0.35, 2150.60,0.16, 2150.64,0.00, 2150.72,-0.02, 2150.80,0.16, 2150.84,-0.35, 2150.88,0.01, 2150.96,-0.01, 2151.04,0.02, 2151.12,0.00, 2151.20,0.01, 2151.28,-0.01, 2151.36,0.02, 2151.44,0.00, 2151.52,0.01, 2151.60,-0.01, 2151.66,0.16, 2151.70,0.02, 2151.78,0.00, 2151.86,0.01, 2151.94,-0.01, 2151.98,-0.18, 2152.02,0.02, 2152.10,0.00, 2152.18,0.01, 2152.26,-0.01, 2152.34,0.02, 2152.42,0.00, 2152.50,0.01, 2152.58,-0.13, 2152.62,0.02, 2152.70,0.00, 2152.78,0.01, 2152.86,-0.01, 2152.94,-0.23, 2152.98,0.05, 2153.02,0.00, 2153.10,0.01, 2153.18,-0.01, 2153.26,0.02, 2153.34,0.00, 2153.42,0.01, 2153.50,-0.01, 2153.58,0.02, 2153.66,0.00, 2153.74,0.01, 2153.82,-0.01, 2153.90,0.01, 2153.98,-0.02, 2154.04,-0.13, 2154.08,0.01, 2154.16,-0.01, 2154.24,0.02, 2154.30,0.00, 2154.36,0.16, 2154.40,0.00, 2154.48,-0.01, 2154.56,0.01, 2154.64,-0.01, 2154.70,-0.35, 2154.74,0.00, 2154.82,0.01, 2154.90,-0.01, 2154.98,0.02, 2155.04,-0.05, 2155.08,0.06, 2155.14,0.01, 2155.22,-0.01, 2155.30,0.02, 2155.36,-0.05, 2155.42,0.01, 2155.46,0.00, 2156.3,null,
 2157.62,0.02, 2157.70,0.04, 2157.78,0.01, 2157.86,0.03, 2157.94,0.00, 2157.98,-0.35, 2158.02,0.16, 2158.06,0.02, 2158.14,0.04, 2158.22,0.01, 2158.28,-0.35, 2158.32,0.03, 2158.40,0.05, 2158.48,0.02, 2158.56,0.04, 2158.64,0.01, 2158.72,0.03, 2158.80,0.02, 2158.88,0.04, 2158.96,0.05, 2159.02,0.01, 2159.10,0.03, 2159.18,0.02, 2159.26,0.04, 2159.34,0.01, 2159.40,0.03, 2159.44,-0.28, 2159.48,0.02, 2159.56,0.04, 2159.62,0.01, 2159.68,-0.23, 2159.72,0.03, 2159.80,0.05, 2159.86,0.07, 2159.90,0.02, 2159.96,0.04, 2160.00,0.03];

// ---------- build ----------
function P(a) { const o = []; for (let i = 0; i < a.length; i += 2) o.push([a[i], a[i + 1] === null ? '-' : a[i + 1]]); return o; }
const GL = [163, 1463, 2764], GW = [1021, 1022, 1023], GT = [76, 834], GH = 758;
const SERIF = 'DejaVu Serif';
const fmtY = v => { const s = Math.abs(v) < 1e-9 ? '0.0' : v.toFixed(1); return s.replace('-', '\u2212'); };

const grids = [], xAxes = [], yAxes = [], series = [];
for (let r = 0; r < 2; r++) for (let c = 0; c < 3; c++) {
  const i = r * 3 + c;
  grids.push({ left: GL[c], top: GT[r], width: GW[c], height: GH, show: true, borderColor: '#000', borderWidth: 2.5, backgroundColor: 'transparent', containLabel: false });
  xAxes.push({
    gridIndex: i, type: 'value', min: xTicks[0], max: xTicks[xTicks.length - 1], interval: 10,
    axisLine: { show: false, onZero: false }, splitLine: { show: false },
    axisTick: { show: true, inside: true, length: 16, lineStyle: { color: '#000', width: 3 } },
    axisLabel: { show: r === 1, margin: 14, fontFamily: SERIF, fontSize: 46, color: '#000', formatter: v => String(Math.round(v)) },
    name: r === 1 ? 'Wavenumber [cm\u207B\u00B9]' : '', nameLocation: 'middle', nameGap: 82,
    nameTextStyle: { fontFamily: SERIF, fontSize: 47, color: '#000' }
  });
  const isDiff = c === 2;
  const ticks = isDiff ? diffTicks : odTicks;
  yAxes.push({
    gridIndex: i, type: 'value', inverse: !isDiff, min: isDiff ? -0.3 : -0.1, max: isDiff ? 0.15 : 0.9,
    axisLine: { show: false, onZero: false }, splitLine: { show: false },
    axisTick: { show: true, inside: true, length: 16, lineStyle: { color: '#000', width: 3 }, customValues: ticks },
    axisLabel: { customValues: ticks, margin: isDiff ? 22 : 20, fontFamily: SERIF, fontSize: 46, color: '#000', formatter: fmtY, showMinLabel: true, showMaxLabel: true },
    name: isDiff ? '{i|\u03C4}(MIR2)\u2212{i|\u03C4}(MIR1)' : 'Optical Depth',
    nameLocation: 'middle', nameRotate: 90, nameGap: isDiff ? 146 : 116,
    nameTextStyle: { fontFamily: SERIF, fontSize: 47, color: '#000', rich: { i: { fontFamily: SERIF, fontStyle: 'italic', fontSize: 47, color: '#000' } } }
  });
}

function fill(i, data, rgb) {
  series.push({ type: 'line', xAxisIndex: i, yAxisIndex: i, data: P(data), showSymbol: false, smooth: 0.35, silent: true, animation: false,
    lineStyle: { color: 'rgba(' + rgb + ',0.6)', width: 2.5 }, areaStyle: { color: 'rgba(' + rgb + ',0.6)', origin: 'auto' }, z: 2 });
}
function line(i, data, color, width, z, extra) {
  series.push(Object.assign({ type: 'line', xAxisIndex: i, yAxisIndex: i, data: P(data), showSymbol: false, silent: true, animation: false,
    connectNulls: false, lineStyle: { color: color, width: width, join: 'round' }, z: z }, extra || {}));
}
function fit(i, data) {
  line(i, data, '#ff00ff', 4.8, 10, { smooth: 0.3, lineStyle: { color: '#ff00ff', width: 4.8, type: [30, 7.5, 5, 7.5], cap: 'butt' } });
}
const BLUE = '31,119,180', ORANGE = '255,165,0', GREEN = '0,128,0';
const comps = [[blue1, orange1, green1, fit1], [blue2, orange2, green2, fit2]];
const spexB = [spexBlack1, spexBlack2], spexG = [spexGrey1, spexGrey2], ish = [ishell1, ishell2];
for (let c = 0; c < 2; c++) {
  const [b, o, g, f] = comps[c];
  fill(c, b, BLUE); fill(c, o, ORANGE); fill(c, g, GREEN);
  line(c, spexG[c], '#808080', 2, 4);
  line(c, spexB[c], '#000', 3.5, 5);
  fit(c, f);
  const j = 3 + c;
  fill(j, b, BLUE); fill(j, o, ORANGE); fill(j, g, GREEN);
  line(j, ish[c], '#000', 2, 5);
  fit(j, f);
}
line(2, spexGreyDiff, '#808080', 2, 4);
line(2, spexBlackDiff, '#000', 3.5, 5);
fit(2, fitDiff);
line(5, ishellDiff, '#000', 2, 5);
fit(5, fitDiff);

const graphics = [];
columnTitles.forEach((t, c) => graphics.push({ type: 'text', x: GL[c] + GW[c] / 2, y: 26, z: 1,
  style: { text: t, fontFamily: SERIF, fontSize: 55, fill: '#000', align: 'center', verticalAlign: 'middle' } }));
const annX = [240, 1540, 2844], annY = [[735, 1498], [735, 1498], [746, 1507]];
for (let c = 0; c < 3; c++) for (let r = 0; r < 2; r++) graphics.push({ type: 'text', x: annX[c], y: annY[c][r], z: 1,
  style: { text: rowLabels[r], fontFamily: SERIF, fontSize: 56, fill: '#000', align: 'left', verticalAlign: 'middle' } });

const chart = echarts.init(document.getElementById('c'), null, { renderer: 'canvas', width: 3850, height: 1750 });
chart.setOption({ animation: false, backgroundColor: '#fff', grid: grids, xAxis: xAxes, yAxis: yAxes, series: series, graphic: { elements: graphics, z: 1 } });
</script></body></html>
